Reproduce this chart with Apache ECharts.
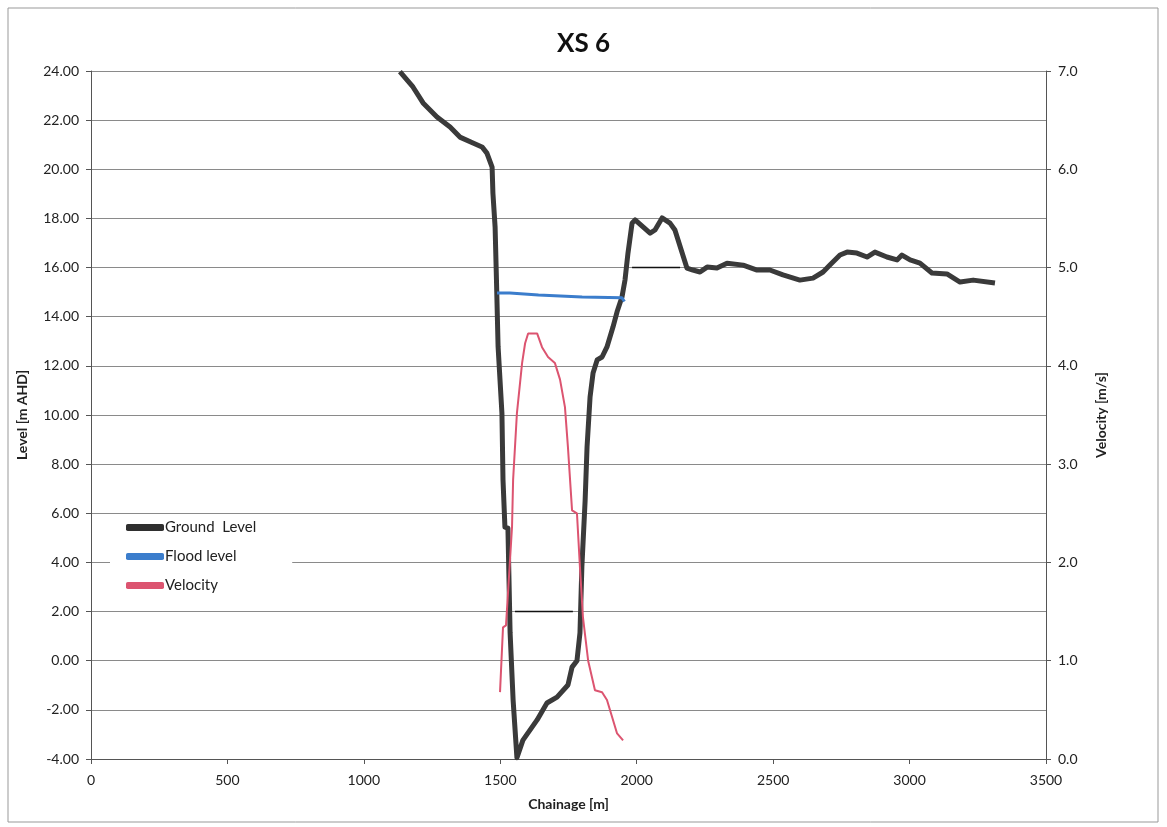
<!DOCTYPE html>
<html>
<head>
<meta charset="utf-8">
<title>XS 6</title>
<script src="https://cdn.jsdelivr.net/npm/echarts@6/dist/echarts.min.js"></script>
<style>
  html, body { margin: 0; padding: 0; background: #fff; }
  #chart { width: 1167px; height: 827px; }
</style>
</head>
<body>
<div id="chart"></div>
<script>
// ground level along the section [chainage m, level m AHD]
var groundLevel = [
  [1132, 23.97], [1180, 23.35], [1217, 22.70], [1268, 22.13], [1316, 21.72],
  [1352, 21.31], [1400, 21.07], [1433, 20.91], [1451, 20.66], [1470, 20.09],
  [1473, 19.03], [1481, 17.65], [1486, 15.49], [1492, 12.77], [1506, 10.08],
  [1510, 7.35], [1517, 5.44], [1528, 5.40], [1536, 1.13], [1547, -1.60],
  [1561, -3.95], [1583, -3.23], [1635, -2.41], [1671, -1.72], [1708, -1.48],
  [1748, -0.99], [1763, -0.26], [1781, 0.00], [1792, 1.13], [1799, 3.82],
  [1811, 6.54], [1818, 8.70], [1829, 10.73], [1840, 11.71], [1855, 12.24],
  [1873, 12.36], [1891, 12.77], [1913, 13.58], [1928, 14.20], [1946, 14.80],
  [1957, 15.49], [1968, 16.59], [1983, 17.81], [1994, 17.94], [2049, 17.40],
  [2067, 17.53], [2093, 18.02], [2122, 17.81], [2140, 17.53], [2184, 15.98],
  [2206, 15.90], [2232, 15.82], [2258, 16.02], [2294, 15.98], [2331, 16.18],
  [2390, 16.10], [2441, 15.90], [2488, 15.90], [2536, 15.70], [2598, 15.49],
  [2646, 15.57], [2683, 15.82], [2708, 16.10], [2745, 16.51], [2771, 16.63],
  [2807, 16.59], [2844, 16.43], [2873, 16.63], [2917, 16.43], [2954, 16.31],
  [2972, 16.51], [3002, 16.31], [3038, 16.18], [3082, 15.78], [3137, 15.74],
  [3185, 15.41], [3233, 15.49], [3313, 15.37]
];

// flood level [chainage m, level m AHD]
var floodLevel = [
  [1488, 14.97], [1535, 14.97], [1640, 14.88], [1800, 14.80], [1946, 14.77], [1955, 14.62]
];

// velocity [chainage m, velocity m/s]
var velocity = [
  [1499, 0.68], [1510, 1.34], [1521, 1.36], [1543, 2.36], [1547, 2.84],
  [1561, 3.52], [1580, 4.03], [1591, 4.23], [1602, 4.33], [1635, 4.33],
  [1653, 4.19], [1675, 4.09], [1700, 4.03], [1719, 3.86], [1737, 3.58],
  [1748, 3.17], [1763, 2.53], [1781, 2.50], [1792, 1.95], [1803, 1.44],
  [1822, 1.00], [1847, 0.70], [1873, 0.68], [1891, 0.60], [1928, 0.26],
  [1950, 0.19]
];

// short dark strokes sitting on the gridlines
var markA = [[1554, 2.0], [1766, 2.0]];
var markB = [[1983, 16.0], [2159, 16.0]];

var chart = echarts.init(document.getElementById('chart'));

var axisFont = { fontFamily: 'Lato', fontSize: 14, color: '#222' };

var option = {
  backgroundColor: '#fff',
  animation: false,
  title: {
    text: 'XS 6',
    left: 'center',
    top: 26,
    textStyle: { fontFamily: 'Lato', fontSize: 26, fontWeight: 'bold', color: '#111' }
  },
  graphic: [{
    type: 'rect',
    shape: { x: 8, y: 8, width: 1150, height: 814 },
    style: { fill: 'none', stroke: '#999', lineWidth: 1 }
  }],
  legend: {
    data: ['Ground  Level', 'Flood level', 'Velocity'],
    orient: 'vertical',
    left: 110,
    top: 516,
    itemGap: 14,
    itemWidth: 38,
    itemHeight: 7,
    icon: 'roundRect',
    backgroundColor: '#fff',
    padding: [4, 36, 4, 16],
    textStyle: { fontFamily: 'Lato', fontSize: 15, color: '#222', padding: [0, 0, 0, -4] }
  },
  grid: { left: 91, right: 121, top: 71, bottom: 68 },
  xAxis: {
    type: 'value',
    min: 0, max: 3500, interval: 500,
    name: 'Chainage [m]',
    nameLocation: 'middle',
    nameGap: 38,
    nameTextStyle: { fontFamily: 'Lato', fontSize: 14, fontWeight: 'bold', color: '#222' },
    axisLine: { show: true, onZero: false, lineStyle: { color: '#555' } },
    axisTick: { show: true, length: 5, lineStyle: { color: '#555' } },
    axisLabel: Object.assign({ margin: 14, formatter: function (v) { return String(v); } }, axisFont),
    splitLine: { show: false }
  },
  yAxis: [{
    type: 'value',
    min: -4, max: 24, interval: 2,
    name: 'Level [m AHD]',
    nameLocation: 'middle',
    nameGap: 62,
    nameTextStyle: { fontFamily: 'Lato', fontSize: 14, fontWeight: 'bold', color: '#222' },
    axisLine: { show: true, onZero: false, lineStyle: { color: '#555' } },
    axisTick: { show: true, length: 5, lineStyle: { color: '#555' } },
    axisLabel: Object.assign({ margin: 12, formatter: function (v) { return v.toFixed(2); } }, axisFont),
    splitLine: { show: true, lineStyle: { color: '#8a8a8a', width: 1.2 } }
  }, {
    type: 'value',
    min: 0, max: 7, interval: 1,
    name: 'Velocity [m/s]',
    nameLocation: 'middle',
    nameGap: 48,
    nameTextStyle: { fontFamily: 'Lato', fontSize: 14, fontWeight: 'bold', color: '#222' },
    axisLine: { show: true, onZero: false, lineStyle: { color: '#555' } },
    axisTick: { show: true, length: 5, lineStyle: { color: '#555' } },
    axisLabel: Object.assign({ margin: 12, formatter: function (v) { return v.toFixed(1); } }, axisFont),
    splitLine: { show: false }
  }],
  series: [{
    name: 'Ground  Level',
    type: 'line',
    data: groundLevel,
    showSymbol: false,
    color: '#2f2f2f',
    lineStyle: { color: '#3a3a3a', width: 5, join: 'round' },
    z: 3
  }, {
    name: 'Flood level',
    type: 'line',
    data: floodLevel,
    showSymbol: false,
    color: '#3b7dcc',
    lineStyle: { color: '#3b7dcc', width: 3 },
    z: 4
  }, {
    name: 'Velocity',
    type: 'line',
    yAxisIndex: 1,
    data: velocity,
    showSymbol: false,
    color: '#dc5470',
    lineStyle: { color: '#dc5470', width: 2 },
    z: 5
  }, {
    name: 'markA',
    type: 'line',
    data: markA,
    showSymbol: false,
    lineStyle: { color: '#111', width: 1.5 },
    z: 2
  }, {
    name: 'markB',
    type: 'line',
    data: markB,
    showSymbol: false,
    lineStyle: { color: '#111', width: 1.5 },
    z: 2
  }]
};

chart.setOption(option);
</script>
</body>
</html>
